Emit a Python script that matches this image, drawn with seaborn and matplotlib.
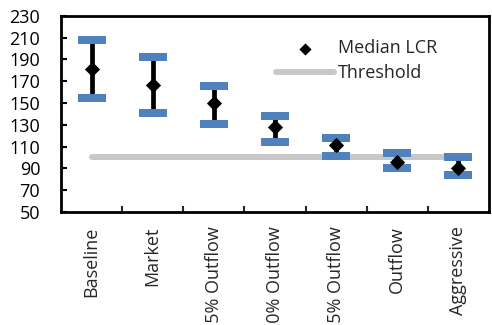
import matplotlib
matplotlib.use("Agg")
import matplotlib.pyplot as plt
import seaborn as sns
import pandas as pd

# Scenario results for the liquidity coverage ratio
categories = ["Baseline", "Market", "15% Outflow", "20% Outflow",
              "25% Outflow", "Outflow", "Aggressive"]
median_lcr = [181, 167, 150, 128, 111, 96, 90]
upper_lcr = [208, 192, 166, 138, 118, 104, 100]
lower_lcr = [155, 141, 131, 114, 101, 90, 84]
threshold = 100
y_ticks = list(range(50, 231, 20))

sns.set_style("ticks")
plt.rcParams["font.family"] = ["Open Sans", "DejaVu Sans"]

df = pd.DataFrame({
    "pos": range(len(categories)),
    "category": categories,
    "median": median_lcr,
    "upper": upper_lcr,
    "lower": lower_lcr,
    "threshold": [threshold] * len(categories),
})

fig = plt.figure(figsize=(4.92, 3.25), dpi=100)
ax = fig.add_axes([0.124, 0.348, 0.870, 0.603])

# threshold line across the scenarios
sns.lineplot(data=df, x="pos", y="threshold", ax=ax, color="#C8C8C8",
             linewidth=4.3, solid_capstyle="round", label="Threshold",
             zorder=1)

# range whiskers
ax.vlines(df["pos"], df["lower"], df["upper"], color="black",
          linewidth=3.4, zorder=2)

# blue caps at the range ends
cap = [(-1, -0.25), (1, -0.25), (1, 0.25), (-1, 0.25), (-1, -0.25)]
for col in ["upper", "lower"]:
    ax.plot(df["pos"], df[col], linestyle="none", marker=cap,
            markersize=20.5, color="#4F81BD", markeredgewidth=0, zorder=3)

# medians
sns.scatterplot(data=df, x="pos", y="median", ax=ax, marker="D", s=60,
                color="black", edgecolor="black", linewidth=0,
                label="Median LCR", zorder=4)

ax.set_xlim(-0.5, len(categories) - 0.5)
ax.set_ylim(50, 230)
ax.set_yticks(y_ticks)
ax.set_xticks([i + 0.5 for i in range(len(categories) - 1)])
ax.set_xticklabels([])
ax.set_xticks(range(len(categories)), categories, minor=True)
ax.set_xlabel("")
ax.set_ylabel("")

for s in ax.spines.values():
    s.set_visible(True)
    s.set_linewidth(2.0)
    s.set_color("black")

ax.tick_params(axis="y", direction="in", length=4, width=1.5, pad=15,
               labelsize=13, colors="black")
ax.tick_params(axis="x", which="major", direction="in", length=4.5,
               width=1.5)
ax.tick_params(axis="x", which="minor", length=0, pad=10.5, labelsize=13,
               labelrotation=90)
for lbl in ax.get_xticklabels(minor=True):
    lbl.set_va("top")

handles, labels = ax.get_legend_handles_labels()
order = [labels.index("Median LCR"), labels.index("Threshold")]
ax.legend([handles[i] for i in order], [labels[i] for i in order],
          loc="upper left", bbox_to_anchor=(0.502, 0.88), frameon=False,
          borderpad=0, borderaxespad=0, handlelength=3.2,
          handletextpad=0.25, labelspacing=0.38, fontsize=13,
          markerscale=0.8)

fig.savefig("out.png", dpi=100)
